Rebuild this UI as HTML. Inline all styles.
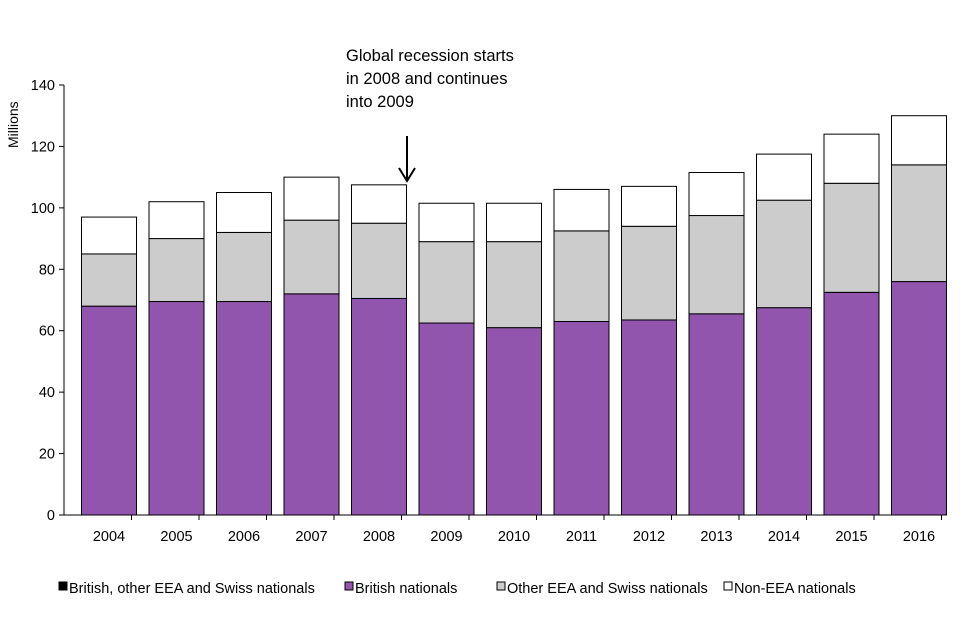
<!DOCTYPE html>
<html><head><meta charset="utf-8"><style>
body{margin:0;background:#fff;}
svg{display:block;font-family:"Liberation Sans",Arial,sans-serif;}
</style></head><body>
<svg id="chart" width="960" height="640">
<g id="axes"></g><g id="bars"></g>
<g font-size="16.5" fill="#000">
<text x="346" y="61">Global recession starts</text>
<text x="346" y="84">in 2008 and continues</text>
<text x="346" y="107">into 2009</text>
</g>
<g stroke="#000" stroke-width="2" fill="none">
<line x1="407" y1="136" x2="407" y2="180"/>
<polyline points="399,168 407,181 415,168"/>
</g>
<text transform="translate(18,148) rotate(-90)" font-size="14">Millions</text>
<g id="legend" font-size="14.5"></g>
</svg>
<script>
const years=["2004","2005","2006","2007","2008","2009","2010","2011","2012","2013","2014","2015","2016"];
const british=[68,69.5,69.5,72,70.5,62.5,61,63,63.5,65.5,67.5,72.5,76];
const otherEEA=[17,20.5,22.5,24,24.5,26.5,28,29.5,30.5,32,35,35.5,38];
const nonEEA=[12,12,13,14,12.5,12.5,12.5,13.5,13,14,15,16,16];
const yTicks=[0,20,40,60,80,100,120,140];
const NS="http://www.w3.org/2000/svg";
const x0=64,y0=515,yTop=85,yMax=140,step=67.5,bw=55;
function yS(v){return y0-(y0-yTop)*v/yMax;}
function xC(i){return 109+i*step;}
function mk(t,a,p){const e=document.createElementNS(NS,t);for(const k in a)e.setAttribute(k,a[k]);p.appendChild(e);return e;}
const ax=document.getElementById('axes'),bars=document.getElementById('bars');
const yl=mk('line',{x1:x0,y1:yTop,x2:x0,y2:y0,stroke:'#000'},ax);


const xl=mk('line',{x1:x0,y1:y0,x2:x0+step*years.length,y2:y0,stroke:'#000'},ax);


yTicks.forEach(v=>{
 mk('line',{x1:x0-5,y1:yS(v),x2:x0,y2:yS(v),stroke:'#000'},ax);
 const t=mk('text',{x:x0-9,y:yS(v)+5,'text-anchor':'end','font-size':'14.5'},ax);t.textContent=v;
 
 
});
years.forEach((y,i)=>{
 const xc=xC(i);
 mk('line',{x1:x0+step*(i+1),y1:y0,x2:x0+step*(i+1),y2:y0+5,stroke:'#000'},ax);
 const t=mk('text',{x:xc,y:541,'text-anchor':'middle','font-size':'14.5'},ax);t.textContent=y;
 
 
 let base=0;
 [[british[i],'#9155ad','bar-british'],[otherEEA[i],'#cccccc','bar-other-eea'],[nonEEA[i],'#ffffff','bar-non-eea']].forEach(s=>{
  const r=mk('rect',{x:xc-bw/2,y:yS(base+s[0]),width:bw,height:yS(base)-yS(base+s[0]),fill:s[1],stroke:'#000','stroke-width':1},bars);
  
  
  base+=s[0];
 });
});
const lg=document.getElementById('legend');
[[59,'#000','British, other EEA and Swiss nationals'],[345,'#9155ad','British nationals'],[497,'#cccccc','Other EEA and Swiss nationals'],[724,'#fff','Non-EEA nationals']].forEach(l=>{
 const g=mk('g',{},lg);
 
 
 mk('rect',{x:l[0],y:582,width:8,height:8,fill:l[1],stroke:'#000'},g);
 const t=mk('text',{x:l[0]+10,y:593},g);t.textContent=l[2];
});
</script>
</body></html>
